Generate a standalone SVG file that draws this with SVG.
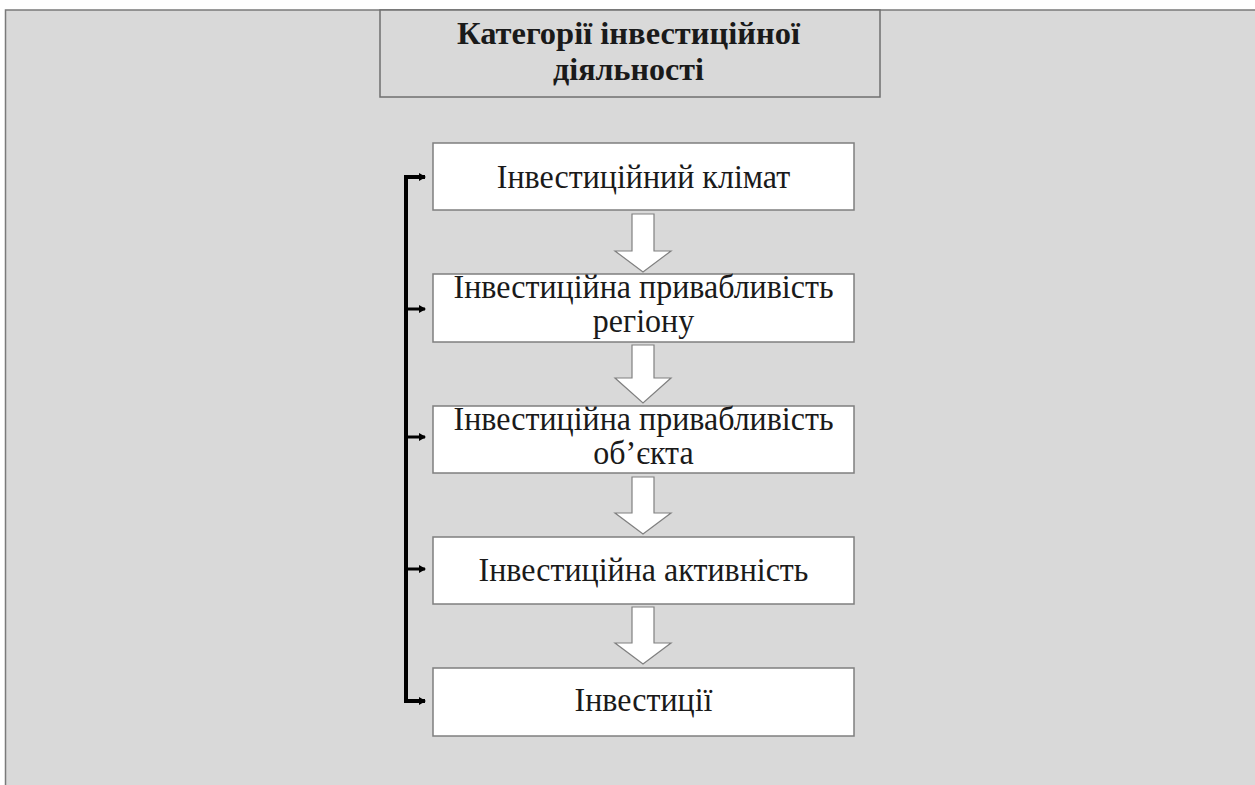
<svg xmlns="http://www.w3.org/2000/svg" width="1255" height="785" viewBox="0 0 1255 785">
<defs>
<style>
.box{fill:#ffffff;stroke:#7f7f7f;stroke-width:1.5}
.title{fill:#d9d9d9;stroke:#6f6f6f;stroke-width:1.5}
.t{font-family:"Liberation Serif","Times New Roman",serif;font-size:33px;fill:#1a1a1a;text-anchor:middle}
.tb{font-family:"Liberation Serif","Times New Roman",serif;font-size:31px;font-weight:bold;fill:#1a1a1a;text-anchor:middle}
.blk{fill:#ffffff;stroke:#808080;stroke-width:1.2}
.br{fill:none;stroke:#000000;stroke-width:4}
.stub{fill:none;stroke:#000000;stroke-width:3}
</style>
<marker id="ah" markerWidth="7" markerHeight="8" refX="6" refY="4" orient="auto" markerUnits="userSpaceOnUse">
<path d="M0,0 L7,4 L0,8 Z" fill="#000"/>
</marker>
</defs>
<rect x="0" y="0" width="1255" height="785" fill="#ffffff"/>
<rect id="panel" x="5.5" y="10" width="1260" height="790" fill="#d9d9d9" stroke="#7a7a7a" stroke-width="1.5"/>
<g id="title">
<rect class="title" x="380" y="10" width="500" height="87"/>
<text class="tb" x="628.5" y="44" textLength="343" lengthAdjust="spacingAndGlyphs">Категорії інвестиційної</text>
<text class="tb" x="628.5" y="80" textLength="151" lengthAdjust="spacingAndGlyphs">діяльності</text>
</g>
<g id="n1">
<rect class="box" x="433" y="143" width="421" height="67"/>
<text class="t" transform="translate(643.5,188) scale(0.97,1)">Інвестиційний клімат</text>
</g>
<g id="n2">
<rect class="box" x="433" y="274" width="421" height="68"/>
<text class="t" transform="translate(643.5,298) scale(0.97,1)">Інвестиційна привабливість</text>
<text class="t" transform="translate(643.5,332) scale(0.97,1)">регіону</text>
</g>
<g id="n3">
<rect class="box" x="433" y="406" width="421" height="67"/>
<text class="t" transform="translate(643.5,430) scale(0.97,1)">Інвестиційна привабливість</text>
<text class="t" transform="translate(643.5,464) scale(0.97,1)">об’єкта</text>
</g>
<g id="n4">
<rect class="box" x="433" y="537" width="421" height="67"/>
<text class="t" transform="translate(643.5,581) scale(0.97,1)">Інвестиційна активність</text>
</g>
<g id="n5">
<rect class="box" x="433" y="668" width="421" height="68"/>
<text class="t" transform="translate(643.5,711) scale(0.97,1)">Інвестиції</text>
</g>
<g id="connectors">
<path class="blk" d="M632,214 H654 V251 H671 L643,272 L615,251 H632 Z"/>
<path class="blk" d="M632,345 H654 V378 H671 L643,403 L615,378 H632 Z"/>
<path class="blk" d="M632,477 H654 V513 H671 L643,534 L615,513 H632 Z"/>
<path class="blk" d="M632,607 H654 V643 H671 L643,664 L615,643 H632 Z"/>
<path class="br" d="M425,177 H406 V701 H425"/>
<path class="stub" d="M406,177 H425" marker-end="url(#ah)"/>
<path class="stub" d="M406,309 H425" marker-end="url(#ah)"/>
<path class="stub" d="M406,437 H425" marker-end="url(#ah)"/>
<path class="stub" d="M406,569 H425" marker-end="url(#ah)"/>
<path class="stub" d="M406,701 H425" marker-end="url(#ah)"/>
</g>
</svg>
